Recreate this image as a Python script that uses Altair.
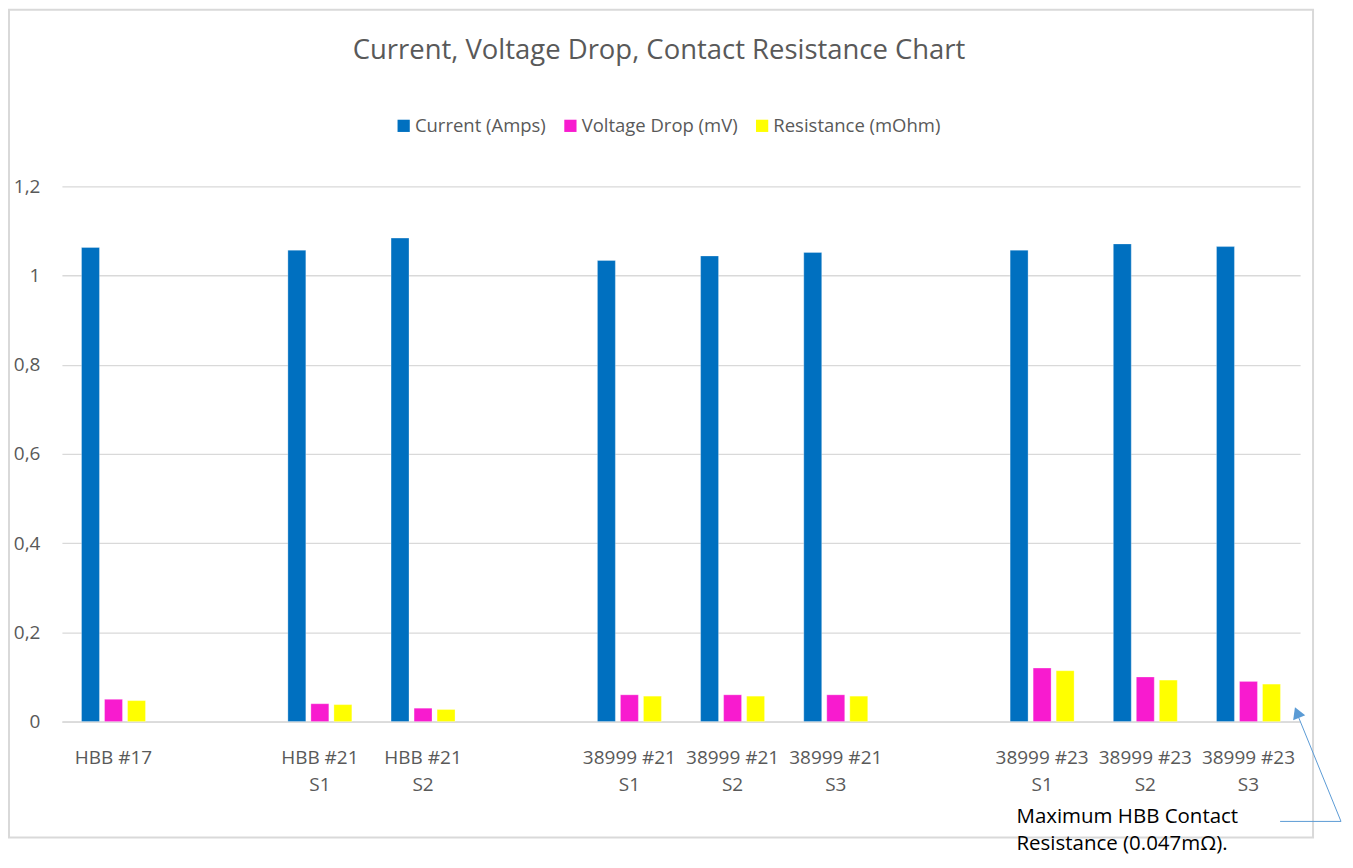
import altair as alt
import pandas as pd

# ---- data ----
slots = ["HBB #17", "_e1", "HBB #21|S1", "HBB #21|S2", "_e2",
         "38999 #21|S1", "38999 #21|S2", "38999 #21|S3", "_e3",
         "38999 #23|S1", "38999 #23|S2", "38999 #23|S3"]
categories = ["HBB #17", "HBB #21|S1", "HBB #21|S2",
              "38999 #21|S1", "38999 #21|S2", "38999 #21|S3",
              "38999 #23|S1", "38999 #23|S2", "38999 #23|S3"]
series = ["Current (Amps)", "Voltage Drop (mV)", "Resistance (mOhm)"]
current = [1.063, 1.057, 1.084, 1.034, 1.044, 1.052, 1.057, 1.071, 1.065]
voltage = [0.05, 0.04, 0.03, 0.06, 0.06, 0.06, 0.12, 0.10, 0.09]
resistance = [0.047, 0.038, 0.027, 0.057, 0.057, 0.057, 0.114, 0.093, 0.084]
colors = ["#0070C0", "#F81BCF", "#FFFF00"]
title_text = "Current, Voltage Drop, Contact Resistance Chart"
note_line1 = "Maximum HBB Contact"
note_line2 = "Resistance (0.047m\u03a9)."

rows = []
for i, c in enumerate(categories):
    for s, vals in zip(series, [current, voltage, resistance]):
        rows.append({"cat": c, "series": s, "value": vals[i]})
df = pd.DataFrame(rows)

FONT = "Open Sans"
GRAY = "#595959"
W, H = 1240, 536

bars = alt.Chart(df).mark_bar(stroke="white", strokeWidth=0.6, strokeOpacity=0.5).encode(
    x=alt.X("cat:N", sort=slots,
            scale=alt.Scale(domain=slots, paddingInner=0.38, paddingOuter=0.19),
            axis=alt.Axis(title=None, labelExpr="indexof(datum.value, '_') == 0 ? '' : split(datum.value, '|')",
                          labelOverlap=False, labelBound=False, labelFont=FONT, labelFontSize=19,
                          labelColor=GRAY, labelPadding=27, labelLineHeight=27, ticks=False,
                          domainColor="#D9D9D9", domainWidth=1.5, labelAngle=0, grid=False)),
    xOffset=alt.XOffset("series:N", sort=series,
                        scale=alt.Scale(domain=series, paddingInner=0.22, paddingOuter=0)),
    y=alt.Y("value:Q", scale=alt.Scale(domain=[0, 1.2], nice=False),
            axis=alt.Axis(title=None, values=[0, 0.2, 0.4, 0.6, 0.8, 1.0, 1.2], format=".1~f",
                          labelExpr="replace(datum.label, '.', ',')", labelFont=FONT,
                          labelFontSize=19, labelColor=GRAY, labelPadding=22, ticks=False,
                          domain=False, gridColor="#D9D9D9", gridWidth=1.3)),
    color=alt.Color("series:N", sort=series,
                    scale=alt.Scale(domain=series, range=colors),
                    legend=alt.Legend(title=None, orient="none", legendX=333, legendY=-70,
                                      direction="horizontal", symbolType="square", symbolSize=150,
                                      symbolStrokeWidth=0, labelFont=FONT, labelFontSize=18.5,
                                      labelColor=GRAY, columnPadding=15, labelOffset=2,
                                      labelLimit=0)),
)

one = alt.Data(values=[{"a": 1}])

border = alt.Chart(one).mark_rect(fill=None, stroke="#D9D9D9", strokeWidth=2, clip=False).encode(
    x=alt.value(-53), x2=alt.value(1253), y=alt.value(-177), y2=alt.value(652))

title = alt.Chart(one).mark_text(font=FONT, fontSize=27.5, color=GRAY, align="center",
                                 baseline="middle").encode(
    x=alt.value(598), y=alt.value(-136), text=alt.value(title_text))

note1 = alt.Chart(one).mark_text(font=FONT, fontSize=20.5, color="#000000", align="left",
                                 baseline="middle").encode(
    x=alt.value(956), y=alt.value(632), text=alt.value(note_line1))

note2 = alt.Chart(one).mark_text(font=FONT, fontSize=20.5, color="#000000", align="left",
                                 baseline="middle").encode(
    x=alt.value(956), y=alt.value(659), text=alt.value(note_line2))

hline = alt.Chart(one).mark_rule(color="#5B9BD5", strokeWidth=1).encode(
    x=alt.value(1220), x2=alt.value(1281), y=alt.value(636), y2=alt.value(636))

dline = alt.Chart(one).mark_rule(color="#5B9BD5", strokeWidth=1).encode(
    x=alt.value(1281), x2=alt.value(1237), y=alt.value(636), y2=alt.value(528))

arrow = alt.Chart(one).mark_point(shape="triangle-up", filled=True, color="#5B9BD5",
                                  size=170, angle=338, opacity=1).encode(
    x=alt.value(1237), y=alt.value(527))

chart = alt.layer(border, bars, title, note1, note2, hline, dline, arrow).properties(
    width=W, height=H,
    padding={"left": 54, "top": 178, "right": 45, "bottom": 138},
    autosize=alt.AutoSizeParams(type="none"),
    background="white",
).configure_view(stroke=None)

chart.save("out.html", embed_options={"renderer": "svg", "actions": False})
